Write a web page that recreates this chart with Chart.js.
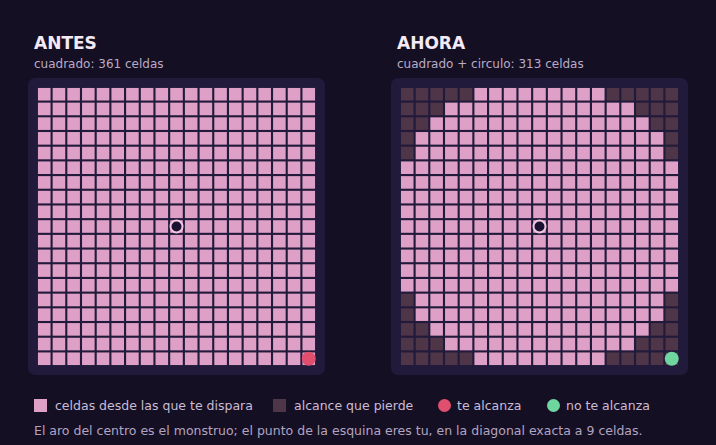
<!DOCTYPE html>
<html><head><meta charset="utf-8">
<script src="https://cdn.jsdelivr.net/npm/chart.js@4"></script>
<style>
body{margin:0;background:#150f24;width:716px;height:445px;overflow:hidden;font-family:"DejaVu Sans",sans-serif;position:relative}
.t{position:absolute;color:#f3eaf6;font-weight:bold;font-size:17px}
.s{position:absolute;color:#b9abc6;font-size:12px}
.p{position:absolute;width:297px;height:297px;background:#211a3a;border-radius:7px}
.p canvas{position:absolute;left:0;top:0}
.lg{position:absolute;top:398px;color:#c9bcd6;font-size:12.5px;display:flex;align-items:center}
.sw{width:13px;height:13px;margin-right:8px}
.dot{width:13px;height:13px;border-radius:50%;margin-right:6px}
.fn{position:absolute;left:34px;top:423px;color:#b2a4c0;font-size:12.5px}
</style></head><body>
<div class="t" style="left:34px;top:33px">ANTES</div>
<div class="s" style="left:34px;top:57px">cuadrado: 361 celdas</div>
<div class="t" style="left:397px;top:33px">AHORA</div>
<div class="s" style="left:397px;top:57px">cuadrado + circulo: 313 celdas</div>
<div class="p" style="left:28px;top:78px"><canvas id="a" width="297" height="297"></canvas></div>
<div class="p" style="left:391px;top:78px"><canvas id="b" width="297" height="297"></canvas></div>
<div class="lg" style="left:34px"><div class="sw" style="background:#dfa0c8"></div>celdas desde las que te dispara</div>
<div class="lg" style="left:273px"><div class="sw" style="background:#4e3548"></div>alcance que pierde</div>
<div class="lg" style="left:438px"><div class="dot" style="background:#e0506e"></div>te alcanza</div>
<div class="lg" style="left:547px"><div class="dot" style="background:#6fd6a0"></div>no te alcanza</div>
<div class="fn">El aro del centro es el monstruo; el punto de la esquina eres tu, en la diagonal exacta a 9 celdas.</div>
<script>
const gridSize = 19;
const monster = [9, 9];
const player = [18, 18];
// Right grid: 1 = in reach (square + circle), 0 = lost reach
const ahoraRows = [
"0000011111111100000",
"0001111111111111000",
"0011111111111111100",
"0111111111111111110",
"0111111111111111110",
"1111111111111111111",
"1111111111111111111",
"1111111111111111111",
"1111111111111111111",
"1111111111111111111",
"1111111111111111111",
"1111111111111111111",
"1111111111111111111",
"1111111111111111111",
"0111111111111111110",
"0111111111111111110",
"0011111111111111100",
"0001111111111111000",
"0000011111111100000"];
const antesRows = Array(19).fill("1111111111111111111");
const PINK="#dfa0c8", DARK="#4e3548";
function make(id, rows, playerColor){
  const pts=[], cols=[];
  rows.forEach((r,y)=>[...r].forEach((c,x)=>{pts.push({x,y});cols.push(c==="1"?PINK:DARK);}));
  new Chart(document.getElementById(id),{
    type:'scatter',
    data:{datasets:[
      {data:[{x:monster[0],y:monster[1]}],pointStyle:'circle',pointRadius:6,backgroundColor:'#1a1230',borderColor:'#f2c6e0',borderWidth:2},
      {data:[{x:player[0],y:player[1]}],pointStyle:'circle',pointRadius:7,backgroundColor:playerColor,borderWidth:0},
      {data:pts,pointStyle:'rect',pointRadius:8.9,backgroundColor:cols,borderWidth:0}
    ]},
    options:{responsive:false,animation:false,events:[],
      layout:{padding:7},
      plugins:{legend:{display:false},tooltip:{enabled:false}},
      scales:{x:{display:false,min:-0.5,max:18.5},y:{display:false,reverse:true,min:-0.5,max:18.5}}}
  });
}
make('a',antesRows,'#e0506e');
make('b',ahoraRows,'#6fd6a0');
</script>
</body></html>
